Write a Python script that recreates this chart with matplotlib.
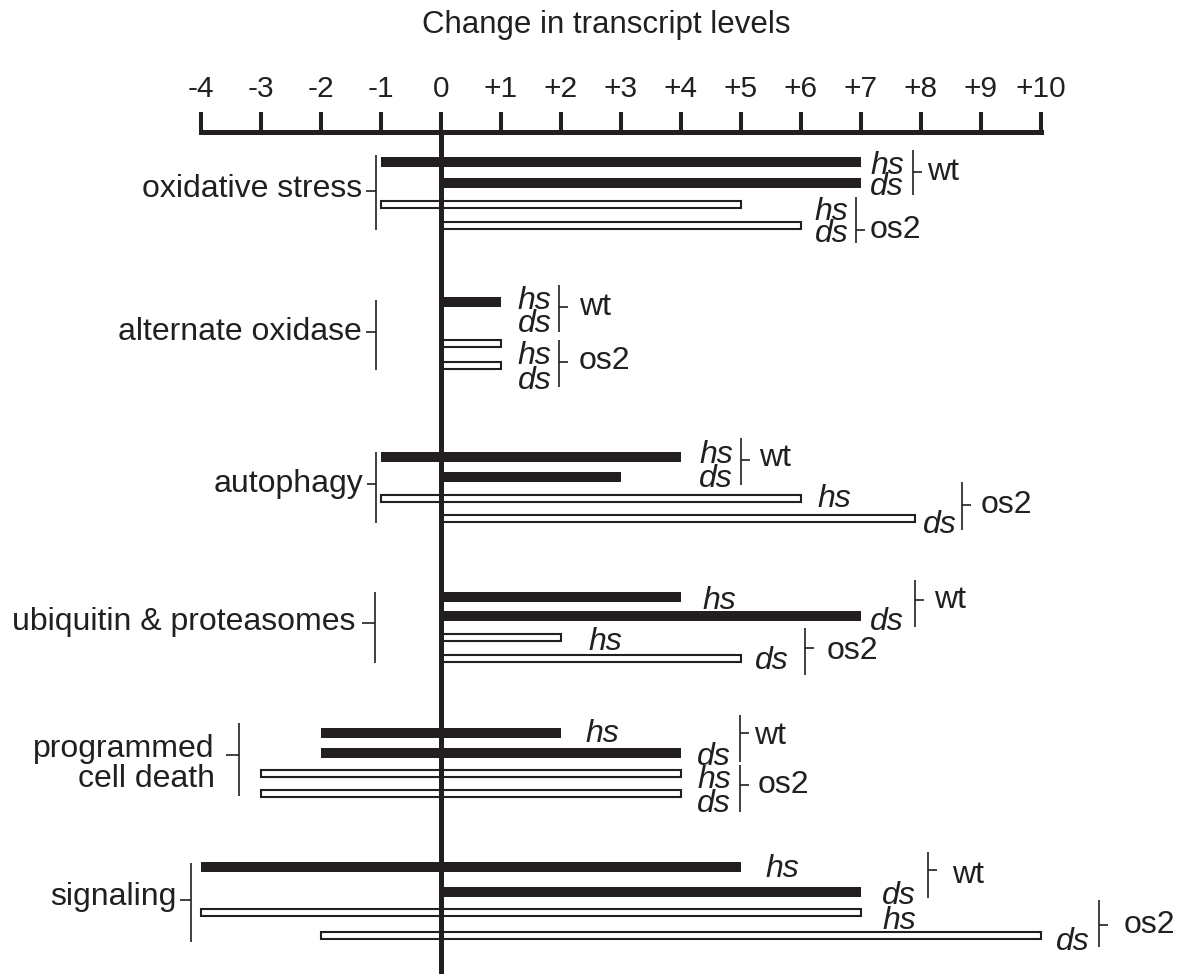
import matplotlib
matplotlib.use("Agg")
import matplotlib.pyplot as plt

plt.rcParams['font.family'] = ['Liberation Sans', 'DejaVu Sans']

INK = '#231f20'

# data: change in transcript levels, each bar runs from lo to hi
categories = ["oxidative stress", "alternate oxidase", "autophagy",
              "ubiquitin & proteasomes", "programmed\ncell death", "signaling"]
wt_hs_lo = [-1, 0, -1, 0, -2, -4]
wt_hs_hi = [7, 1, 4, 4, 2, 5]
wt_ds_lo = [0, 0, 0, 0, -2, 0]
wt_ds_hi = [7, 0, 3, 7, 4, 7]
os2_hs_lo = [-1, 0, -1, 0, -3, -4]
os2_hs_hi = [5, 1, 6, 2, 4, 7]
os2_ds_lo = [0, 0, 0, 0, -3, -2]
os2_ds_hi = [6, 1, 7.9, 5, 4, 10]

tick_values = list(range(-4, 11))
tick_labels = ['-4', '-3', '-2', '-1', '0', '+1', '+2', '+3', '+4',
               '+5', '+6', '+7', '+8', '+9', '+10']

# layout (y in pixels from top, x in data units)
row_y = [[162, 183, 204, 225], [302, 322, 343, 365], [457, 477, 498, 518],
         [597, 616, 637, 658], [733, 753, 773, 793], [867, 892, 912, 935]]

# hs/ds labels: (x, lines, y of first line centre, y of last line centre)
stacks = [
    (7.15, ['hs', 'ds'], 162, 183), (6.23, ['hs', 'ds'], 208, 230),
    (1.28, ['hs', 'ds'], 297, 320), (1.28, ['hs', 'ds'], 352, 377),
    (4.3, ['hs', 'ds'], 451, 475), (6.28, ['hs'], 495, 495), (8.03, ['ds'], 521, 521),
    (4.35, ['hs'], 597, 597), (7.15, ['ds'], 618, 618),
    (2.45, ['hs'], 638, 638), (5.23, ['ds'], 657, 657),
    (2.4, ['hs'], 730, 730), (4.27, ['ds', 'hs', 'ds'], 753, 800),
    (5.4, ['hs'], 865, 865), (7.35, ['ds', 'hs'], 892, 917), (10.25, ['ds'], 938, 938),
]

# genotype brackets: (x, y0, y1, tick y, label, label x, label y)
brackets = [
    (7.87, 150, 195, 172, 'wt', 8.1, 172), (6.92, 197, 243, 230, 'os2', 7.15, 230),
    (1.97, 285, 332, 307, 'wt', 2.3, 307), (1.97, 340, 387, 362, 'os2', 2.3, 361),
    (5.0, 438, 485, 460, 'wt', 5.3, 458), (8.68, 482, 530, 505, 'os2', 9.0, 505),
    (7.9, 580, 627, 600, 'wt', 8.22, 600), (6.07, 628, 675, 648, 'os2', 6.42, 651),
    (4.98, 715, 762, 733, 'wt', 5.22, 736), (4.98, 765, 812, 785, 'os2', 5.28, 785),
    (8.12, 852, 898, 870, 'wt', 8.52, 875), (10.97, 900, 947, 925, 'os2', 11.37, 925),
]

# category text right edge, baselines, tick (x0, x1, y), bracket (x, y0, y1)
cat = [
    dict(tx=-1.32, ty=[197], tick=(-1.25, -1.08, 191), br=(-1.08, 155, 230)),
    dict(tx=-1.32, ty=[340], tick=(-1.25, -1.08, 332), br=(-1.08, 300, 370)),
    dict(tx=-1.3, ty=[492], tick=(-1.23, -1.08, 484), br=(-1.08, 452, 523)),
    dict(tx=-1.43, ty=[630], tick=(-1.32, -1.1, 623), br=(-1.1, 592, 663)),
    dict(tx=-3.77, ty=[757, 787], tick=(-3.58, -3.37, 755), br=(-3.37, 723, 796)),
    dict(tx=-4.4, ty=[905], tick=(-4.35, -4.17, 900), br=(-4.17, 863, 942)),
]

fig = plt.figure(figsize=(11.91, 9.74), dpi=100)
ax = fig.add_axes([0, 0, 1, 1])
ax.set_xlim(-4 - 201 / 60, -4 + (1191 - 201) / 60)
ax.set_ylim(974, 0)
ax.axis('off')

FS = 23
EM = FS * 100 / 72  # font size in pixels

# top scale
ax.hlines(132, -4, 10, color=INK, lw=3.6, capstyle='projecting')
ax.vlines(tick_values, 112, 132, color=INK, lw=2.9)
for v, t in zip(tick_values, tick_labels):
    ax.text(v, 97, t, ha='center', va='baseline', fontsize=21.5, color=INK)
ax.text(2.75, 33, "Change in transcript levels", ha='center', va='baseline',
        fontsize=22.5, color=INK)

# bars
series = [(wt_hs_lo, wt_hs_hi, True), (wt_ds_lo, wt_ds_hi, True),
          (os2_hs_lo, os2_hs_hi, False), (os2_ds_lo, os2_ds_hi, False)]
for k, (lo, hi, filled) in enumerate(series):
    ys = [r[k] for r in row_y]
    widths = [h - l for l, h in zip(lo, hi)]
    if filled:
        ax.barh(ys, widths, left=lo, height=10, color=INK, lw=0, zorder=2)
    else:
        ax.barh(ys, widths, left=lo, height=7, color='white', edgecolor=INK,
                lw=1.5, zorder=2)

# zero line
ax.vlines(0, 132, 974, color=INK, lw=3.6, zorder=3)

# hs / ds labels, stacked ones as one multi-line text (anchored at last baseline)
for x, lines, y0, y1 in stacks:
    gap = (y1 - y0) / (len(lines) - 1) if len(lines) > 1 else EM
    ls = (gap - 0.212 * EM) / (0.729 * EM)
    ax.text(x, y1 + 0.365 * EM, '\n'.join(lines), style='italic', ha='left',
            va='baseline', fontsize=FS, color=INK, linespacing=ls)

# genotype brackets
for bx, b0, b1, ty, gen, gx, gy in brackets:
    ax.vlines(bx, b0, b1, color=INK, lw=1.2)
    ax.hlines(ty, bx, bx + 0.15, color=INK, lw=1.2)
    ax.text(gx, gy, gen, ha='left', va='center', fontsize=FS, color=INK)

# category labels
for name, c in zip(categories, cat):
    for line, yb in zip(name.split('\n'), c['ty']):
        ax.text(c['tx'], yb, line, ha='right', va='baseline', fontsize=FS, color=INK)
    x0, x1, y = c['tick']
    ax.hlines(y, x0, x1, color=INK, lw=1.2)
    bx, b0, b1 = c['br']
    ax.vlines(bx, b0, b1, color=INK, lw=1.2)

fig.savefig('out.png', dpi=100)
